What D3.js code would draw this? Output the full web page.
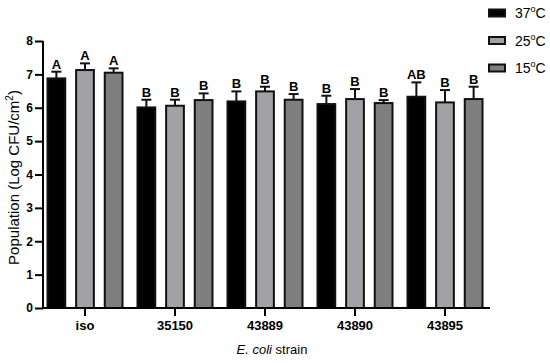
<!DOCTYPE html>
<html>
<head>
<meta charset="utf-8">
<script src="https://cdn.jsdelivr.net/npm/d3@7"></script>
<style>
body { margin: 0; background: #fff; }
text { font-family: Arial, "Liberation Sans", sans-serif; }
</style>
</head>
<body>
<script>
// data
strains = ["iso", "35150", "43889", "43890", "43895"]
temps = ["37", "25", "15"]
colors = ["#000000", "#a2a2a6", "#7f7f7f"]
mean37 = [6.88, 6.01, 6.19, 6.11, 6.33]
mean25 = [7.13, 6.06, 6.49, 6.26, 6.16]
mean15 = [7.05, 6.23, 6.24, 6.14, 6.26]
err37 = [0.20, 0.23, 0.30, 0.25, 0.43]
err25 = [0.20, 0.18, 0.14, 0.30, 0.37]
err15 = [0.13, 0.20, 0.17, 0.09, 0.37]
let37 = ["A", "B", "B", "B", "AB"]
let25 = ["A", "B", "B", "B", "B"]
let15 = ["A", "B", "B", "B", "B"]
yTicks = [0, 1, 2, 3, 4, 5, 6, 7, 8]

means = [mean37, mean25, mean15]
errs = [err37, err25, err15]
lets = [let37, let25, let15]

data = []
strains.forEach(function(s, i) {
    temps.forEach(function(t, j) {
        data.push({strain: s, temp: t, j: j, v: means[j][i], e: errs[j][i], l: lets[j][i]})
    })
})

width = 550
height = 363

svg = d3.select("body")
    .append("svg")
    .attr("width", width)
    .attr("height", height)

x = d3.scaleBand().domain(strains).range([40, 490])
xin = d3.scaleBand().domain(temps).range([-37.5, 37.5]).paddingInner(0.38)
y = d3.scaleLinear().domain([0, 8]).range([308, 41])

// bars
svg.selectAll("rect.bar")
    .data(data)
    .enter()
    .append("rect")
    .attr("class", "bar")
    .attr("x", function(d) { return x(d.strain) + x.bandwidth()/2 + xin(d.temp); })
    .attr("y", function(d) { return y(d.v); })
    .attr("width", xin.bandwidth())
    .attr("height", function(d) { return y(0) - y(d.v); })
    .attr("fill", function(d) { return colors[d.j]; })
    .attr("stroke", "#111")
    .attr("stroke-width", 2)

// error bars (upper only)
cx = function(d) { return x(d.strain) + x.bandwidth()/2 + xin(d.temp) + xin.bandwidth()/2; }
svg.selectAll("line.err")
    .data(data)
    .enter()
    .append("line")
    .attr("x1", cx).attr("x2", cx)
    .attr("y1", function(d) { return y(d.v); })
    .attr("y2", function(d) { return y(d.v + d.e); })
    .attr("stroke", "#111")
    .attr("stroke-width", 2)
svg.selectAll("line.cap")
    .data(data)
    .enter()
    .append("line")
    .attr("x1", function(d) { return cx(d) - 5; })
    .attr("x2", function(d) { return cx(d) + 5; })
    .attr("y1", function(d) { return y(d.v + d.e); })
    .attr("y2", function(d) { return y(d.v + d.e); })
    .attr("stroke", "#111")
    .attr("stroke-width", 2)

// letters
svg.selectAll("text.let")
    .data(data)
    .enter()
    .append("text")
    .attr("x", cx)
    .attr("y", function(d) { return y(d.v + d.e) - 3; })
    .attr("text-anchor", "middle")
    .attr("font-size", 13)
    .attr("font-weight", "bold")
    .text(function(d) { return d.l; })

// axes
yAxis = svg.append("g")
    .attr("transform", "translate(43,0)")
    .call(d3.axisLeft(y).tickValues(yTicks).tickSize(8).tickPadding(2))
yAxis.select(".domain").attr("stroke-width", 2).attr("d", "M0," + y(8) + "V" + y(0))
yAxis.selectAll(".tick line").attr("stroke-width", 2)
yAxis.selectAll(".tick text").attr("font-size", 12).attr("font-weight", "bold")
    .attr("font-family", "Arial, 'Liberation Sans', sans-serif")

xAxis = svg.append("g")
    .attr("transform", "translate(0," + y(0) + ")")
    .call(d3.axisBottom(x).tickSize(8).tickPadding(5))
xAxis.select(".domain").attr("stroke-width", 2).attr("d", "M42,0H490")
xAxis.selectAll(".tick line").attr("stroke-width", 2)
xAxis.selectAll(".tick text").attr("font-size", 13).attr("font-weight", "bold")
    .attr("font-family", "Arial, 'Liberation Sans', sans-serif")

// axis titles
yt = svg.append("text")
    .attr("transform", "translate(19," + (y(4) + 3) + ") rotate(-90)")
    .attr("text-anchor", "middle")
    .attr("font-size", 15)
yt.append("tspan").text("Population (Log CFU/cm")
yt.append("tspan").attr("font-size", 10).attr("dy", -6).text("2")
yt.append("tspan").attr("dy", 6).text(")")

xt = svg.append("text")
    .attr("x", 272)
    .attr("y", 354)
    .attr("text-anchor", "middle")
    .attr("font-size", 13)
xt.append("tspan").attr("font-style", "italic").text("E. coli")
xt.append("tspan").text(" strain")

// legend
leg = svg.selectAll("g.leg")
    .data(temps)
    .enter()
    .append("g")
    .attr("transform", function(d, i) { return "translate(489," + (13 + i*27.5) + ")"; })
leg.append("rect")
    .attr("x", 0).attr("y", -3.5)
    .attr("width", 16).attr("height", 7)
    .attr("fill", function(d, i) { return colors[i]; })
    .attr("stroke", "#111")
    .attr("stroke-width", 2)
lt = leg.append("text")
    .attr("x", 26).attr("y", 5)
    .attr("font-size", 14)
lt.append("tspan").text(function(d) { return d; })
lt.append("tspan").attr("font-size", 9).attr("dy", -6).text("o")
lt.append("tspan").attr("dy", 6).text("C")
</script>
</body>
</html>
